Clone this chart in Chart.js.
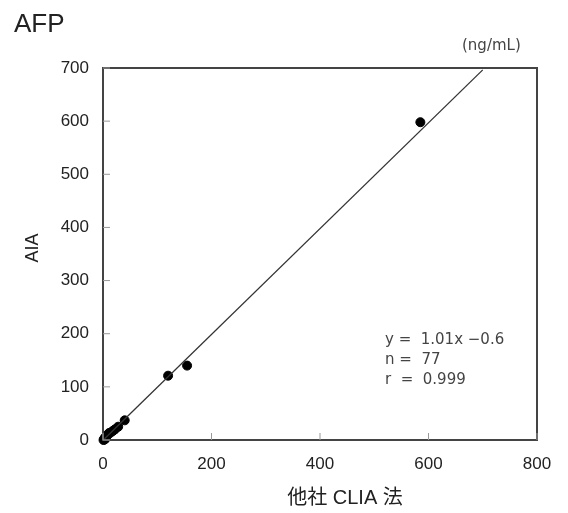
<!DOCTYPE html>
<html lang="ja">
<head>
<meta charset="utf-8">
<title>AFP</title>
<style>
  body { margin: 0; background: #fff; }
  #c { display: block; }
</style>
</head>
<body>
<canvas id="c" width="568" height="513"></canvas>
<script src="https://cdn.jsdelivr.net/npm/chart.js@4/dist/chart.umd.min.js"></script>
<script>
// 他社 CLIA 法 (x) vs AIA (y), ng/mL
var otherX = [1, 2, 3, 4, 5, 7, 9, 11, 14, 18, 22, 28, 40, 120, 155, 585];
var aiaY   = [0, 2, 1, 5, 3, 8, 10, 13, 14, 17, 20, 25, 37, 121, 140, 598];
var lineX = [0, 700];
var lineY = [-0.6, 696.5];
var xTicks = [0, 200, 400, 600, 800];
var yTicks = [0, 100, 200, 300, 400, 500, 600, 700];
var statLines = ['y =  1.01x −0.6', 'n =  77', 'r  =  0.999'];

var textPlugin = {
  id: 'texts',
  afterDraw: function (chart) {
    var ctx = chart.ctx;
    var a = chart.chartArea;
    var xs = chart.scales.x, ys = chart.scales.y;
    ctx.save();
    // box
    ctx.strokeStyle = '#444';
    ctx.lineWidth = 2;
    ctx.strokeRect(a.left, a.top, a.right - a.left, a.bottom - a.top);
    // inward ticks
    ctx.lineWidth = 1;
    ctx.strokeStyle = '#999';
    yTicks.forEach(function (v) {
      var y = ys.getPixelForValue(v);
      ctx.beginPath(); ctx.moveTo(a.left, y); ctx.lineTo(a.left + 7, y); ctx.stroke();
    });
    xTicks.forEach(function (v) {
      var x = xs.getPixelForValue(v);
      ctx.beginPath(); ctx.moveTo(x, a.bottom); ctx.lineTo(x, a.bottom - 7); ctx.stroke();
    });
    ctx.fillStyle = '#222';
    ctx.font = '26px "Liberation Sans", Arial, sans-serif';
    ctx.textBaseline = 'alphabetic';
    ctx.textAlign = 'left';
    ctx.fillText('AFP', 14, 32);
    ctx.font = '15px "DejaVu Sans", sans-serif';
    ctx.fillStyle = '#444';
    ctx.fillText('(ng/mL)', 462, 50);
    statLines.forEach(function (s, i) {
      ctx.fillText(s, 385, 344 + i * 20);
    });
    ctx.fillStyle = '#222';
    ctx.font = '20px "Liberation Sans", "Noto Sans CJK JP", sans-serif';
    ctx.textAlign = 'center';
    ctx.fillText('他社 CLIA 法', 345, 504);
    ctx.save();
    ctx.translate(38, 248);
    ctx.rotate(-Math.PI / 2);
    ctx.font = '18px "Liberation Sans", Arial, sans-serif';
    ctx.fillText('AIA', 0, 0);
    ctx.restore();
    ctx.restore();
  }
};

new Chart(document.getElementById('c'), {
  type: 'scatter',
  data: {
    datasets: [
      {
        type: 'line',
        data: lineX.map(function (x, i) { return { x: x, y: lineY[i] }; }),
        borderColor: '#333',
        borderWidth: 1.3,
        pointRadius: 0,
        fill: false
      },
      {
        data: otherX.map(function (x, i) { return { x: x, y: aiaY[i] }; }),
        backgroundColor: '#000',
        borderColor: '#000',
        pointRadius: 4.5
      }
    ]
  },
  options: {
    responsive: false,
    animation: false,
    events: [],
    clip: false,
    layout: { padding: { left: 0, top: 68, right: 31, bottom: 0 } },
    plugins: { legend: { display: false }, tooltip: { enabled: false } },
    scales: {
      x: {
        type: 'linear', min: 0, max: 800,
        afterBuildTicks: function (s) { s.ticks = xTicks.map(function (v) { return { value: v }; }); },
        afterFit: function (s) { s.height = 73; },
        grid: { display: false },
        border: { display: false },
        ticks: { color: '#222', font: { size: 17, family: 'Liberation Sans' }, padding: 6 }
      },
      y: {
        type: 'linear', min: 0, max: 700,
        afterBuildTicks: function (s) { s.ticks = yTicks.map(function (v) { return { value: v }; }); },
        afterFit: function (s) { s.width = 103; },
        grid: { display: false },
        border: { display: false },
        ticks: { color: '#222', font: { size: 17, family: 'Liberation Sans' }, padding: 6 }
      }
    }
  },
  plugins: [textPlugin]
});
</script>
</body>
</html>
